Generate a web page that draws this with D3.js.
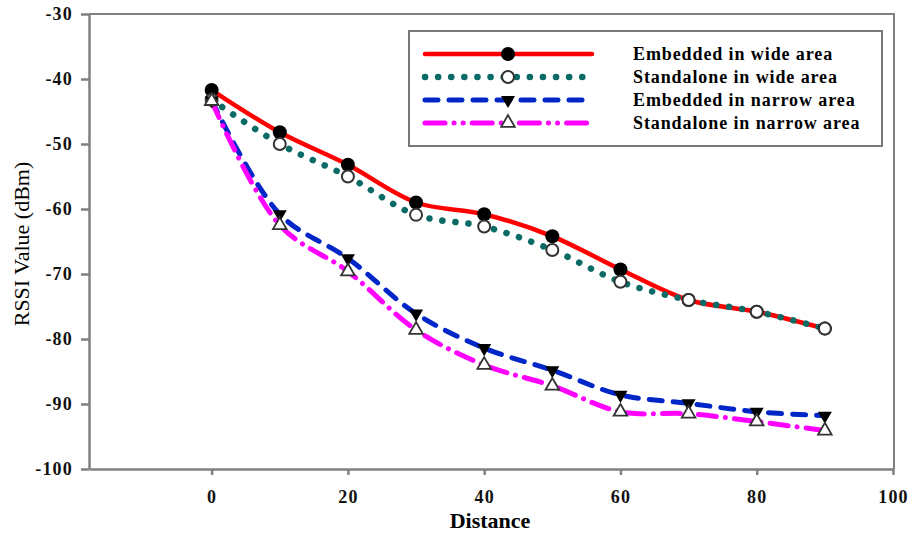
<!DOCTYPE html>
<html>
<head>
<meta charset="utf-8">
<script src="https://cdn.jsdelivr.net/npm/d3@7"></script>
<style>
  body { margin: 0; background: #fff; }
  svg { display: block; }
  .axis path, .axis line { stroke: #808080; stroke-width: 2.5; }
  .axis text { font-family: "Liberation Serif", serif; font-size: 18px; font-weight: bold; fill: #111; letter-spacing: 1.2px; }
</style>
</head>
<body>
<svg width="917" height="534"></svg>
<script>
// values
const distance = [0, 10, 20, 30, 40, 50, 60, 70, 80, 90];
const embeddedWide = [-41.7, -48.2, -53.2, -59.0, -60.8, -64.2, -69.3, -74.0, -75.8, -78.4];
const standaloneWide = [-43.2, -50.0, -55.0, -60.9, -62.7, -66.3, -71.2, -74.0, -75.8, -78.4];
const embeddedNarrow = [-43.3, -60.8, -67.6, -76.1, -81.4, -84.8, -88.6, -89.9, -91.2, -91.8];
const standaloneNarrow = [-43.4, -62.5, -69.6, -78.6, -84.0, -87.2, -91.2, -91.5, -92.7, -94.1];
const xTicks = [0, 20, 40, 60, 80, 100];
const yTicks = [-30, -40, -50, -60, -70, -80, -90, -100];
const seriesNames = ['Embedded in wide area', 'Standalone in wide area', 'Embedded in narrow area', 'Standalone in narrow area'];

const svg = d3.select('svg');
const x = d3.scaleLinear().domain([-18, 100]).range([89, 893]);
const y = d3.scaleLinear().domain([-100, -30]).range([469, 14]);

const series = [
  { name: seriesNames[0], values: embeddedWide, color: '#ff0000', width: 4.5, dash: null, cap: 'round', marker: 'dot' },
  { name: seriesNames[1], values: standaloneWide, color: '#0a6b66', width: 6.5, dash: '0.1,13', cap: 'round', marker: 'ring' },
  { name: seriesNames[2], values: embeddedNarrow, color: '#0026c8', width: 5, dash: '13,11', cap: 'round', marker: 'down' },
  { name: seriesNames[3], values: standaloneNarrow, color: '#ff00ff', width: 5, dash: '18,9,0.1,9', cap: 'round', marker: 'up', legendDash: '20,9,0.1,9,0.1,9' }
];

// plot frame (top and right)
svg.append('path')
  .attr('d', `M${x(-18)},${y(-30)}H${x(100) + 1}V${y(-100)}`)
  .attr('fill', 'none').attr('stroke', '#808080').attr('stroke-width', 2);

// axes (plain hyphen for negatives, like the original)
const yAxis = d3.axisLeft(y).tickValues(yTicks).tickFormat(d => String(d))
  .tickSize(8).tickSizeOuter(0).tickPadding(8);
svg.append('g').attr('class', 'axis').attr('transform', `translate(${x(-18)},0)`).call(yAxis);

const xAxis = d3.axisBottom(x).tickValues(xTicks).tickFormat(d => String(d))
  .tickSize(6).tickSizeOuter(0).tickPadding(15);
svg.append('g').attr('class', 'axis').attr('transform', `translate(0,${y(-100)})`).call(xAxis);

svg.append('text').text('Distance')
  .attr('x', 490).attr('y', 528).attr('text-anchor', 'middle')
  .style('font-family', '"Liberation Serif", serif').style('font-size', '22px').style('font-weight', 'bold');

svg.append('text').text('RSSI Value (dBm)')
  .attr('transform', 'translate(29,244) rotate(-90)').attr('text-anchor', 'middle')
  .style('font-family', '"Liberation Serif", serif').style('font-size', '22px');

// lines
const line = d3.line().x((d, i) => x(distance[i])).y(d => y(d)).curve(d3.curveCatmullRom.alpha(0.5));
series.forEach(s => {
  svg.append('path').datum(s.values)
    .attr('d', line)
    .attr('fill', 'none').attr('stroke', s.color).attr('stroke-width', s.width)
    .attr('stroke-linecap', s.cap).attr('stroke-dasharray', s.dash);
});

const drawMarker = (g, type, cx, cy) => {
  if (type === 'dot') {
    g.append('circle').attr('cx', cx).attr('cy', cy).attr('r', 7).attr('fill', '#000');
  } else if (type === 'ring') {
    g.append('circle').attr('cx', cx).attr('cy', cy).attr('r', 6).attr('fill', '#fff').attr('stroke', '#333').attr('stroke-width', 2);
  } else if (type === 'down') {
    g.append('path').attr('d', d3.symbol(d3.symbolTriangle, 85)())
      .attr('transform', `translate(${cx},${cy}) rotate(180)`).attr('fill', '#000');
  } else {
    g.append('path').attr('d', d3.symbol(d3.symbolTriangle, 80)())
      .attr('transform', `translate(${cx},${cy})`).attr('fill', '#fff').attr('stroke', '#333').attr('stroke-width', 1.8);
  }
};

const markers = svg.append('g');
series.forEach(s => {
  s.values.forEach((v, i) => drawMarker(markers, s.marker, x(distance[i]), y(v)));
});

// legend
const legend = svg.append('g').attr('transform', 'translate(409,31)');
legend.append('rect').attr('width', 473).attr('height', 115)
  .attr('fill', '#fff').attr('stroke', '#777').attr('stroke-width', 2);
series.forEach((s, i) => {
  const ly = 23 + i * 23;
  legend.append('line').attr('x1', 16).attr('x2', 183).attr('y1', ly).attr('y2', ly)
    .attr('stroke', s.color).attr('stroke-width', s.width)
    .attr('stroke-linecap', s.cap).attr('stroke-dasharray', s.legendDash || s.dash);
  drawMarker(legend, s.marker, 99, ly);
  legend.append('text').text(s.name)
    .attr('x', 224).attr('y', ly).attr('dy', '0.35em')
    .style('font-family', '"Liberation Serif", serif').style('font-size', '18px').style('font-weight', 'bold')
    .style('letter-spacing', '0.9px');
});
</script>
</body>
</html>
